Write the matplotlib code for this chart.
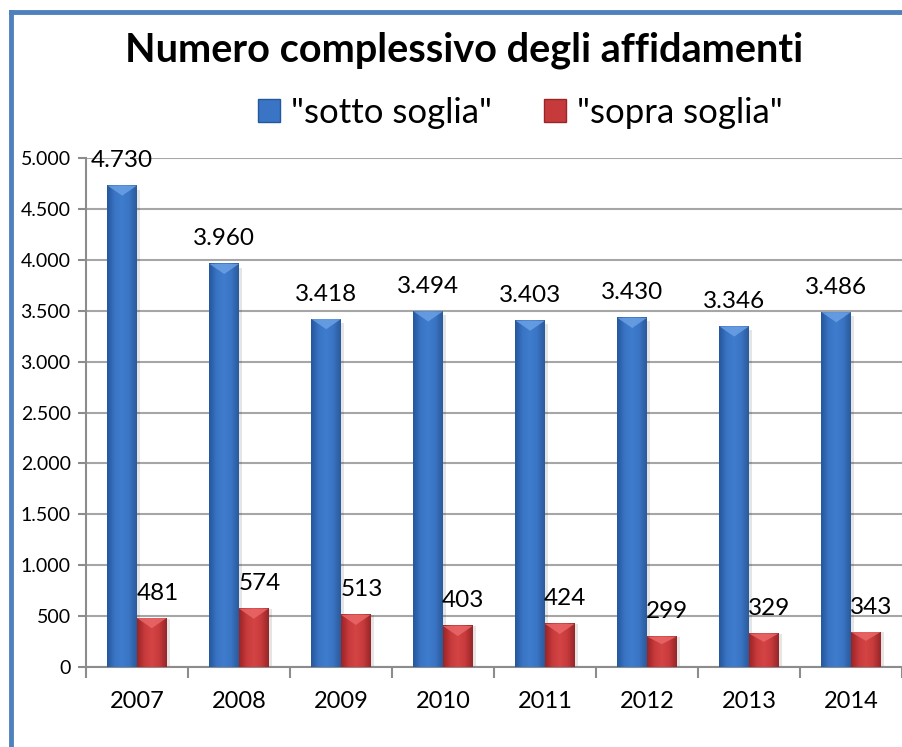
import numpy as np
import matplotlib
matplotlib.use("Agg")
import matplotlib.pyplot as plt
from matplotlib.colors import LinearSegmentedColormap
from matplotlib.ticker import FuncFormatter, MultipleLocator
from matplotlib.patches import Rectangle, Polygon

years = ["2007", "2008", "2009", "2010", "2011", "2012", "2013", "2014"]
sotto = [4730, 3960, 3418, 3494, 3403, 3430, 3346, 3486]
sopra = [481, 574, 513, 403, 424, 299, 329, 343]
series_names = ['"sotto soglia"', '"sopra soglia"']

plt.rcParams['font.family'] = ['Lato', 'DejaVu Sans']

blue_cmap = LinearSegmentedColormap.from_list(
    "b", ["#24579c", "#3a74c4", "#3f7ccd", "#3a74c4", "#2a5a9a"])
red_cmap = LinearSegmentedColormap.from_list(
    "r", ["#9a2426", "#c73a3c", "#d44444", "#c73a3c", "#962628"])


def fmt_it(v, pos=None):
    return f"{int(v):,}".replace(",", ".")


def shade_bars(ax, bars, cmap, top_color):
    grad = np.linspace(0, 1, 64).reshape(1, -1)
    for b in bars:
        x0 = b.get_x()
        w = b.get_width()
        h = b.get_height()
        # soft shadow to the right
        ax.add_patch(Rectangle((x0 + w * 0.1, 0), w, h * 0.99, color="#000000",
                               alpha=0.10, lw=0, zorder=2))
        ax.imshow(grad, cmap=cmap, extent=[x0, x0 + w, 0, h], aspect="auto",
                  zorder=3, interpolation="bicubic")
        # light bevel on the top of each bar
        d = min(100, h * 0.25)
        ax.add_patch(Polygon([(x0, h), (x0 + w, h), (x0 + w * 0.5, h - d)],
                             closed=True, color=top_color, alpha=0.8, lw=0, zorder=4))
        b.set_facecolor("none")


fig = plt.figure(figsize=(9.03, 7.47), dpi=100)
ax = fig.add_axes([86 / 903, 1 - 667 / 747, 816 / 903, 509 / 747])

x = np.arange(len(years))
w = 0.29
b1 = ax.bar(x - w / 2, sotto, w, color="#3a74c4", zorder=3, label=series_names[0])
b2 = ax.bar(x + w / 2, sopra, w, color="#c73a3c", zorder=3, label=series_names[1])
shade_bars(ax, b1, blue_cmap, "#6ea3e6")
shade_bars(ax, b2, red_cmap, "#ec6a6a")

for xi, v in zip(x, sotto):
    ax.annotate(fmt_it(v), (xi - w / 2, v), xytext=(0, 18), textcoords="offset points",
                ha="center", va="center", fontsize=17.5, zorder=5)
for xi, v in zip(x, sopra):
    ax.annotate(fmt_it(v), (xi + w / 2, v), xytext=(4, 18), textcoords="offset points",
                ha="center", va="center", fontsize=17.5, zorder=5)

ax.set_xlim(-0.5, len(years) - 0.5)
ax.set_ylim(0, 5000)
ax.yaxis.set_major_locator(MultipleLocator(500))
ax.yaxis.set_major_formatter(FuncFormatter(fmt_it))
ax.grid(axis="y", color="#a6a6a6", lw=1.5, zorder=0)
ax.set_axisbelow(True)

ax.set_xticks(x)
ax.set_xticklabels(years)
ax.set_xticks(np.arange(len(years) + 1) - 0.5, minor=True)
ax.tick_params(axis="x", which="major", length=0, pad=17, labelsize=17)
ax.tick_params(axis="x", which="minor", length=8, width=1.5, color="#8c8c8c")
ax.tick_params(axis="y", length=6, width=1.5, color="#8c8c8c", labelsize=14, pad=5)

for s in ["top", "right"]:
    ax.spines[s].set_visible(False)
for s in ["left", "bottom"]:
    ax.spines[s].set_color("#8c8c8c")
    ax.spines[s].set_linewidth(1.5)

fig.text(464 / 903, 1 - 50 / 747, "Numero complessivo degli affidamenti",
         ha="center", va="center", fontsize=28.5, fontweight="bold")

h1 = Rectangle((0, 0), 1, 1, color="#3a74c4", ec="#24579c")
h2 = Rectangle((0, 0), 1, 1, color="#c73a3c", ec="#962628")
fig.legend([h1, h2], series_names, loc="center", bbox_to_anchor=(520 / 903, 1 - 113 / 747),
           ncol=2, frameon=False, fontsize=25, handlelength=0.65, handleheight=0.65,
           handletextpad=0.3, columnspacing=1.5)

# blue border on top and left like the source frame
fig.add_artist(plt.Line2D([11 / 903, 1], [1 - 12 / 747, 1 - 12 / 747],
                          color="#4f81bd", lw=3.5, transform=fig.transFigure))
fig.add_artist(plt.Line2D([11 / 903, 11 / 903], [0, 1 - 12 / 747],
                          color="#4f81bd", lw=3.5, transform=fig.transFigure))

fig.savefig("out.png", dpi=100)
